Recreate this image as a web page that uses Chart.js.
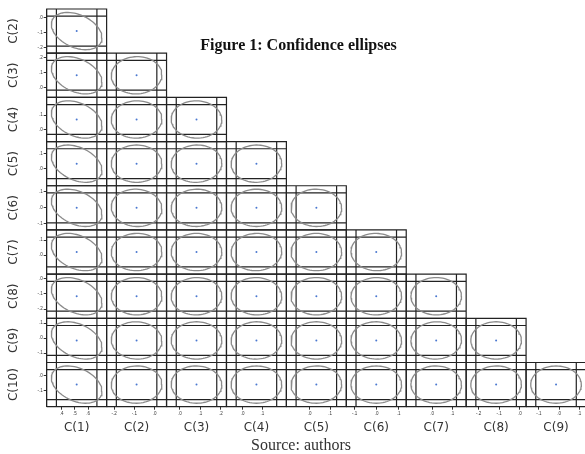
<!DOCTYPE html>
<html>
<head>
<meta charset="utf-8">
<script src="https://cdn.jsdelivr.net/npm/chart.js@4.4.0/dist/chart.umd.min.js"></script>
<style>
  html, body { margin: 0; padding: 0; overflow: hidden; background: #fff; width: 585px; height: 454px; }
  #wrap { position: absolute; left: 0; top: 0; width: 590px; height: 454px; }
  .cap { position: absolute; font-family: "Liberation Serif", "Times New Roman", serif; white-space: nowrap; transform: translateX(-50%); line-height: 18px; }
</style>
</head>
<body>
<div id="wrap"><canvas id="myChart" width="590" height="454"></canvas></div>
<div class="cap" style="left:298.5px; top:36px; font-size:16px; font-weight:bold; color:#111;">Figure 1: Confidence ellipses</div>
<div class="cap" style="left:301px; top:435.5px; font-size:16px; color:#333;">Source: authors</div>
<script>
// coefficient names, estimates and standard errors
var names = ["C(1)", "C(2)", "C(3)", "C(4)", "C(5)", "C(6)", "C(7)", "C(8)", "C(9)", "C(10)"];
var est = [0.513, -0.089, 0.081, 0.07, 0.033, -0.002, 0.02, -0.115, -0.015, -0.061];
var se = [0.0778, 0.051, 0.0505, 0.052, 0.05, 0.047, 0.051, 0.05, 0.051, 0.0508];

// tick values / labels shown on each coefficient axis
var tickVals = [
  [0.4, 0.5, 0.6], [-0.2, -0.1, 0], [0, 0.1, 0.2], [0, 0.1], [0, 0.1],
  [-0.1, 0, 0.1], [0, 0.1], [-0.2, -0.1, 0], [-0.1, 0, 0.1], [-0.1, 0]
];
var tickLabels = [
  [".4", ".5", ".6"], ["-.2", "-.1", ".0"], [".0", ".1", ".2"], [".0", ".1"], [".0", ".1"],
  ["-.1", ".0", ".1"], [".0", ".1"], ["-.2", "-.1", ".0"], ["-.1", ".0", ".1"], ["-.1", ".0"]
];

// correlations: corr[r][c] between C(r+2) and C(c+1)
var corr = [
  [-0.36],
  [-0.36, 0.03],
  [-0.34, 0.02, -0.02],
  [-0.36, 0.00, 0.03, 0.02],
  [-0.36, -0.05, 0.02, 0.00, -0.02],
  [-0.34, 0.02, 0.00, 0.03, 0.00, -0.03],
  [-0.36, 0.00, 0.02, -0.02, 0.00, 0.02, 0.00],
  [-0.36, -0.03, 0.00, 0.02, 0.00, -0.02, 0.03, 0.00],
  [-0.36, 0.02, -0.02, 0.00, 0.02, 0.00, -0.02, 0.02, 0.00]
];

var K = 2.4477;   // 95% joint
var Z = 1.96;     // 95% individual
var R = 2.9;      // axis range in standard errors

function lo(k) { return est[k] - R * se[k]; }
function hi(k) { return est[k] + R * se[k]; }

var datasets = [];
for (var r = 0; r < 9; r++) {
  var yk = r + 1;
  for (var c = 0; c <= r; c++) {
    var xk = c;
    var xa = "x" + (xk + 1), ya = "y" + (yk + 1);

    // frame + individual confidence intervals
    var pts = [];
    pts.push({x: lo(xk), y: lo(yk)}, {x: hi(xk), y: lo(yk)}, {x: hi(xk), y: hi(yk)},
             {x: lo(xk), y: hi(yk)}, {x: lo(xk), y: lo(yk)}, {x: lo(xk), y: null});
    [-1, 1].forEach(function (s) {
      var xv = est[xk] + s * Z * se[xk];
      pts.push({x: xv, y: lo(yk)}, {x: xv, y: hi(yk)}, {x: xv, y: null});
      var yv = est[yk] + s * Z * se[yk];
      pts.push({x: lo(xk), y: yv}, {x: hi(xk), y: yv}, {x: lo(xk), y: null});
    });
    datasets.push({
      data: pts, xAxisID: xa, yAxisID: ya, showLine: true, spanGaps: false,
      borderColor: "#222", borderWidth: 1.2, pointRadius: 0, clip: false, order: 2
    });

    // joint confidence ellipse
    var rho = corr[r][c];
    var el = [];
    for (var a = 0; a <= 360; a += 5) {
      var t = a * Math.PI / 180;
      var u = Math.cos(t), v = Math.sin(t);
      el.push({
        x: est[xk] + K * se[xk] * u,
        y: est[yk] + K * se[yk] * (rho * u + Math.sqrt(1 - rho * rho) * v)
      });
    }
    datasets.push({
      data: el, xAxisID: xa, yAxisID: ya, showLine: true,
      borderColor: "#8a8a8a", borderWidth: 1.3, pointRadius: 0, clip: false, order: 1
    });

    // point estimate
    datasets.push({
      data: [{x: est[xk], y: est[yk]}], xAxisID: xa, yAxisID: ya,
      pointRadius: 1, backgroundColor: "#4a78d0", borderWidth: 0, order: 0
    });
  }
}

function axisTicks(k) {
  return function (s) {
    s.ticks = tickVals[k].map(function (v) { return {value: v}; });
  };
}
function axisLabel(k) {
  return function (value, index) { return tickLabels[k][index]; };
}

var scales = {};
for (var j = 0; j < 9; j++) {
  scales["x" + (j + 1)] = {
    type: "linear", position: "bottom", stack: "cols", stackWeight: 1, weight: j + 1,
    min: lo(j), max: hi(j),
    afterBuildTicks: axisTicks(j),
    afterFit: function (s) { s.height = 28; },
    grid: {drawOnChartArea: false, tickLength: 3, color: "#333"},
    border: {color: "#222"},
    ticks: {font: {size: 4.5}, color: "#333", padding: 1, maxRotation: 0, autoSkip: false, callback: axisLabel(j)},
    title: {display: true, text: names[j], font: {family: "DejaVu Sans", size: 12}, color: "#333", padding: 0}
  };
}
for (var i = 1; i < 10; i++) {
  scales["y" + (i + 1)] = {
    type: "linear", position: "left", stack: "rows", stackWeight: 1, weight: 20 - i,
    min: lo(i), max: hi(i),
    afterBuildTicks: axisTicks(i),
    afterFit: function (s) { s.width = 46.7; },
    grid: {drawOnChartArea: false, tickLength: 3, color: "#333"},
    border: {color: "#222"},
    ticks: {font: {size: 4.5}, color: "#333", padding: 1, autoSkip: false, callback: axisLabel(i)},
    title: {display: true, text: names[i], font: {family: "DejaVu Sans", size: 12}, color: "#333", padding: {top: 7, bottom: 0}}
  };
}

new Chart(document.getElementById("myChart"), {
  type: "scatter",
  data: {datasets: datasets},
  options: {
    responsive: false,
    animation: false,
    devicePixelRatio: 1,
    layout: {padding: {left: 0, right: 3.3, top: 9, bottom: 19.3}},
    scales: scales,
    plugins: {legend: {display: false}, tooltip: {enabled: false}}
  }
});
</script>
</body>
</html>
